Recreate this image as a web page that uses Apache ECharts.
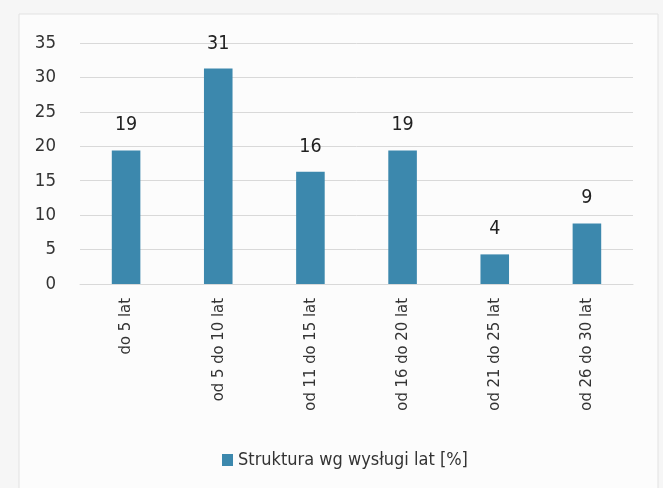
<!DOCTYPE html>
<html>
<head>
<meta charset="utf-8">
<script src="https://cdn.jsdelivr.net/npm/echarts@6/dist/echarts.min.js"></script>
<style>
  html, body { margin: 0; padding: 0; background: #f6f6f6; }
  #bar { width: 663px; height: 488px; }
</style>
</head>
<body>
<div id="bar"></div>
<script>
var categories = ['do 5 lat', 'od 5 do 10 lat', 'od 11 do 15 lat', 'od 16 do 20 lat', 'od 21 do 25 lat', 'od 26 do 30 lat'];
var values = [19.4, 31.3, 16.3, 19.4, 4.3, 8.8];
var seriesName = 'Struktura wg wysługi lat [%]';

var font = '"Liberation Sans Narrow", "DejaVu Sans Condensed", sans-serif';

var dom = document.getElementById("bar");
var myChart = echarts.init(dom);

option = {
    backgroundColor: '#f6f6f6',
    color: ['#3c88ad'],
    textStyle: { fontFamily: font },
    // jasna ramka wokół wykresu
    graphic: [{
        type: 'rect',
        shape: { x: 19, y: 14, width: 639, height: 480 },
        style: { fill: '#fcfcfc', stroke: '#e2e2e2', lineWidth: 1 },
        z: -10
    }],
    legend: {
        bottom: 14,
        left: 217,
        itemWidth: 11,
        itemHeight: 12,
        itemGap: 6,
        icon: 'rect',
        textStyle: { fontFamily: font, fontSize: 18, color: '#333' },
        data: [seriesName]
    },
    grid: {
        left: 80,
        right: 30,
        top: 43,
        bottom: 204
    },
    xAxis: {
        type: 'category',
        data: categories,
        axisLine: { show: true, lineStyle: { color: '#d9d9d9' } },
        axisTick: { show: false },
        axisLabel: {
            rotate: 90,
            margin: 14,
            fontFamily: font,
            fontSize: 16.5,
            color: '#333'
        }
    },
    yAxis: {
        type: 'value',
        min: 0,
        max: 35,
        interval: 5,
        axisLine: { show: false },
        axisTick: { show: false },
        splitLine: { lineStyle: { color: '#d9d9d9' } },
        axisLabel: {
            margin: 24,
            fontFamily: font,
            fontSize: 18.5,
            color: '#333'
        }
    },
    series: [{
        name: seriesName,
        type: 'bar',
        barWidth: '31%',
        data: values,
        label: {
            show: true,
            position: 'top',
            distance: 15,
            fontFamily: font,
            fontSize: 19.5,
            color: '#222',
            formatter: function (p) { return Math.round(p.value); }
        }
    }]
};
if (option && typeof option === "object") {
    myChart.setOption(option, true);
}
</script>
</body>
</html>
